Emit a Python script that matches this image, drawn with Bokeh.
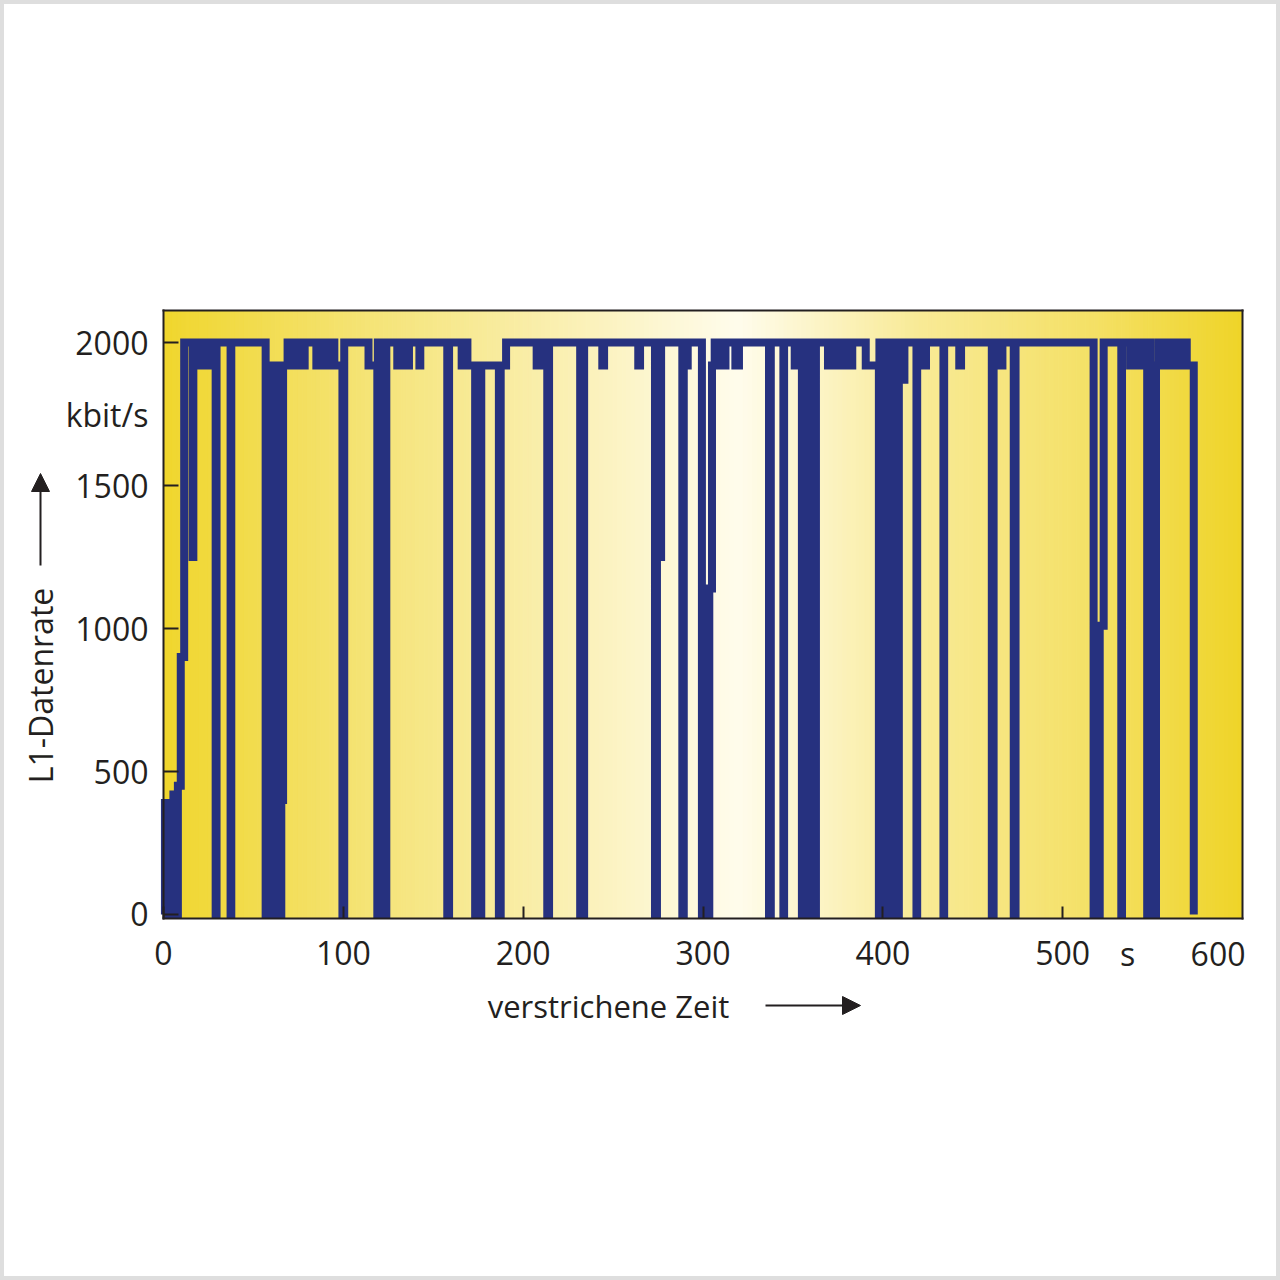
import numpy as np
from bokeh.plotting import figure
from bokeh.models import Range1d, FixedTicker, Label, Arrow, NormalHead, LinearAxis
from bokeh.embed import file_html
from bokeh.resources import INLINE

# ---- data ----
time_s = [0.0, 0.8, 2.0, 3.0, 4.5, 5.5, 7.0, 8.0, 9.6, 11.5, 16.2, 16.6,
          18.5, 19.5, 21.0, 22.0, 23.5, 24.5, 26.0, 29.0, 29.5, 37.3, 37.7,
          56.8, 60.5, 64.2, 65.5, 66.5, 69.0, 70.5, 73.0, 74.0, 76.5, 77.5,
          78.5, 85.0, 86.0, 90.3, 90.8, 95.0, 99.5, 100.5,
          114.0, 118.9, 119.2, 121.4, 121.7, 123.6, 123.9,
          130.0, 131.5, 133.0, 134.5, 135.5, 136.5,
          142.3, 142.8, 157.8, 158.8, 165.8, 167.5, 169.0, 173.3, 176.7,
          186.5, 187.5, 190.5, 207.5, 209.0, 210.5, 213.4, 214.4, 231.7, 233.9,
          244.0, 245.0, 264.0, 265.0, 273.3, 274.4, 276.7, 288.5, 289.3, 291.5,
          299.4, 303.5, 305.0, 306.5, 308.0, 309.5, 311.0, 312.5, 318.0, 320.0,
          336.7, 337.7, 344.7, 345.1, 351.0,
          355.0, 355.3, 358.8, 359.1, 362.5, 362.8,
          369.5, 371.5, 373.0, 374.5, 376.0, 377.5, 379.0, 380.5, 382.0, 383.0,
          390.5, 397.8, 398.1, 401.5, 401.8, 405.2, 405.5, 408.6, 408.9,
          412.0, 418.7, 419.1, 421.5, 424.0, 433.7, 434.1,
          442.5, 443.5, 460.6, 461.6, 465.0, 466.5, 472.8, 473.8,
          517.2, 520.6, 522.8, 532.6, 533.0, 537.5, 539.0, 540.5, 542.0, 543.5,
          547.0, 547.4, 549.0, 551.5, 551.9, 553.5, 555.0, 557.0, 558.5, 560.5,
          562.0, 564.0, 565.5, 567.5, 569.0, 572.9]
rate_kbps = [0, 390, 0, 380, 0, 420, 0, 450, 900, 2000, 1250, 1920,
             2000, 1920, 2000, 1920, 2000, 1920, 2000, 0, 2000, 0, 2000,
             0, 1920, 0, 400, 1920, 2000, 1920, 2000, 1920, 2000, 1920,
             2000, 1920, 2000, 1920, 2000, 1920, 0, 2000,
             1920, 0, 2000, 0, 2000, 0, 2000,
             1920, 2000, 1920, 2000, 1920, 2000,
             1920, 2000, 0, 2000, 1920, 2000, 1920, 0, 1920,
             0, 1920, 2000, 1920, 2000, 1920, 0, 2000, 0, 2000,
             1920, 2000, 1920, 2000, 0, 1250, 2000, 0, 1920, 2000,
             0, 1140, 1920, 2000, 1920, 2000, 1920, 2000, 1920, 2000,
             0, 2000, 0, 2000, 1920,
             0, 2000, 0, 2000, 0, 2000,
             1920, 2000, 1920, 2000, 1920, 2000, 1920, 2000, 1920, 2000,
             1920, 0, 2000, 0, 2000, 0, 2000, 0, 1870,
             2000, 0, 2000, 1920, 2000, 0, 2000,
             1920, 2000, 0, 2000, 1920, 2000, 0, 2000,
             0, 1010, 2000, 0, 2000, 1920, 2000, 1920, 2000, 1920,
             0, 2000, 1920, 0, 1920, 2000, 1920, 2000, 1920, 2000,
             1920, 2000, 1920, 2000, 1920, 0]

x_ticks = [0, 100, 200, 300, 400, 500]
y_ticks = [0, 500, 1000, 1500, 2000]

# ---- layout / style ----
NAVY = "#26317f"
INK = "#231f20"
FONT = "Open Sans"
FS = "32px"
W = H = 1280
PX_LEFT, PX_RIGHT, PY_TOP, PY_BOTTOM = 163, 1242, 310, 918   # plot box on page
X0, X1 = 0, 600
Y0, Y1 = -14, 2112
sx = (PX_RIGHT - PX_LEFT) / (X1 - X0)
sy = (PY_BOTTOM - PY_TOP) / (Y1 - Y0)


def tx(px):
    return X0 + (px - PX_LEFT) / sx


def vy(py):
    return Y0 + (PY_BOTTOM - py) / sy


p = figure(width=W, height=H, output_backend="svg", toolbar_location=None,
           x_range=Range1d(tx(0), tx(W)), y_range=Range1d(vy(H), vy(0)),
           min_border=0)
p.background_fill_color = "white"
p.border_fill_color = "white"
p.outline_line_color = "#dedede"
p.outline_line_width = 7
p.xgrid.visible = False
p.ygrid.visible = False

# horizontal gradient background (yellow edges, pale centre)
stops_t = [0, 100, 200, 320, 420, 520, 600]
stops_rgb = [(240, 214, 45), (244, 226, 110), (249, 237, 165), (255, 252, 236),
             (248, 234, 150), (244, 224, 100), (239, 212, 40)]
edges = np.linspace(X0, X1, 241)
mids = (edges[:-1] + edges[1:]) / 2
cols = []
for m in mids:
    rgb = [int(round(np.interp(m, stops_t, [c[k] for c in stops_rgb]))) for k in range(3)]
    cols.append("#%02x%02x%02x" % tuple(rgb))
p.quad(left=edges[:-1], right=edges[1:], bottom=Y0, top=Y1,
       fill_color=cols, line_color=cols, line_width=1)

p.step(time_s, rate_kbps, mode="after", line_width=8, line_color=NAVY,
       line_join="miter")

xa = p.xaxis[0]
ya = p.yaxis[0]
xa.fixed_location = Y0
ya.fixed_location = X0
xa.bounds = (X0, X1)
ya.bounds = (Y0, Y1)
for ax in (xa, ya):
    ax.axis_line_color = INK
    ax.axis_line_width = 2
    ax.axis_line_cap = "square"
    ax.major_tick_out = 0
    ax.minor_tick_line_color = None
    ax.major_tick_line_color = INK
    ax.major_tick_line_width = 2
    ax.major_label_text_font = FONT
    ax.major_label_text_font_size = FS
    ax.major_label_text_color = INK
xa.major_tick_in = 12
ya.major_tick_in = 15
xa.ticker = FixedTicker(ticks=x_ticks)
ya.ticker = FixedTicker(ticks=y_ticks)
xa.major_label_standoff = 22
ya.major_label_standoff = 15

# top and right edges of the plot box
for loc, side, bnd in ((Y1, "above", (X0, X1)), (X1, "right", (Y0, Y1))):
    ax = LinearAxis(fixed_location=loc, bounds=bnd, ticker=FixedTicker(ticks=[]),
                    axis_line_color=INK, axis_line_width=2, axis_line_cap="square",
                    major_tick_line_color=None, minor_tick_line_color=None,
                    major_label_text_alpha=0)
    p.add_layout(ax, side)


def lab(**kw):
    d = dict(text_font=FONT, text_font_size=FS, text_color=INK)
    d.update(kw)
    p.add_layout(Label(**d))


lab(x=X0, y=1750, x_offset=-15, text="kbit/s", text_align="right", text_baseline="middle")
lab(x=tx(1245), y=vy(953), text="600", text_align="right", text_baseline="middle")
lab(x=tx(1127), y=vy(953), text="s", text_align="center", text_baseline="middle")
lab(x=tx(40), y=vy(685), text="L1-Datenrate", angle=np.pi / 2,
    text_align="center", text_baseline="middle")
lab(x=tx(608), y=vy(1005), text="verstrichene Zeit", text_align="center",
    text_baseline="middle", text_font_size="31px")

head = dict(size=18, fill_color=INK, line_color=INK)
p.add_layout(Arrow(x_start=tx(40), y_start=vy(565), x_end=tx(40), y_end=vy(473),
                   line_color=INK, line_width=2, end=NormalHead(**head)))
p.add_layout(Arrow(x_start=tx(765), y_start=vy(1005), x_end=tx(860), y_end=vy(1005),
                   line_color=INK, line_width=2, end=NormalHead(**head)))

open("out.html", "w").write(file_html(p, INLINE))
